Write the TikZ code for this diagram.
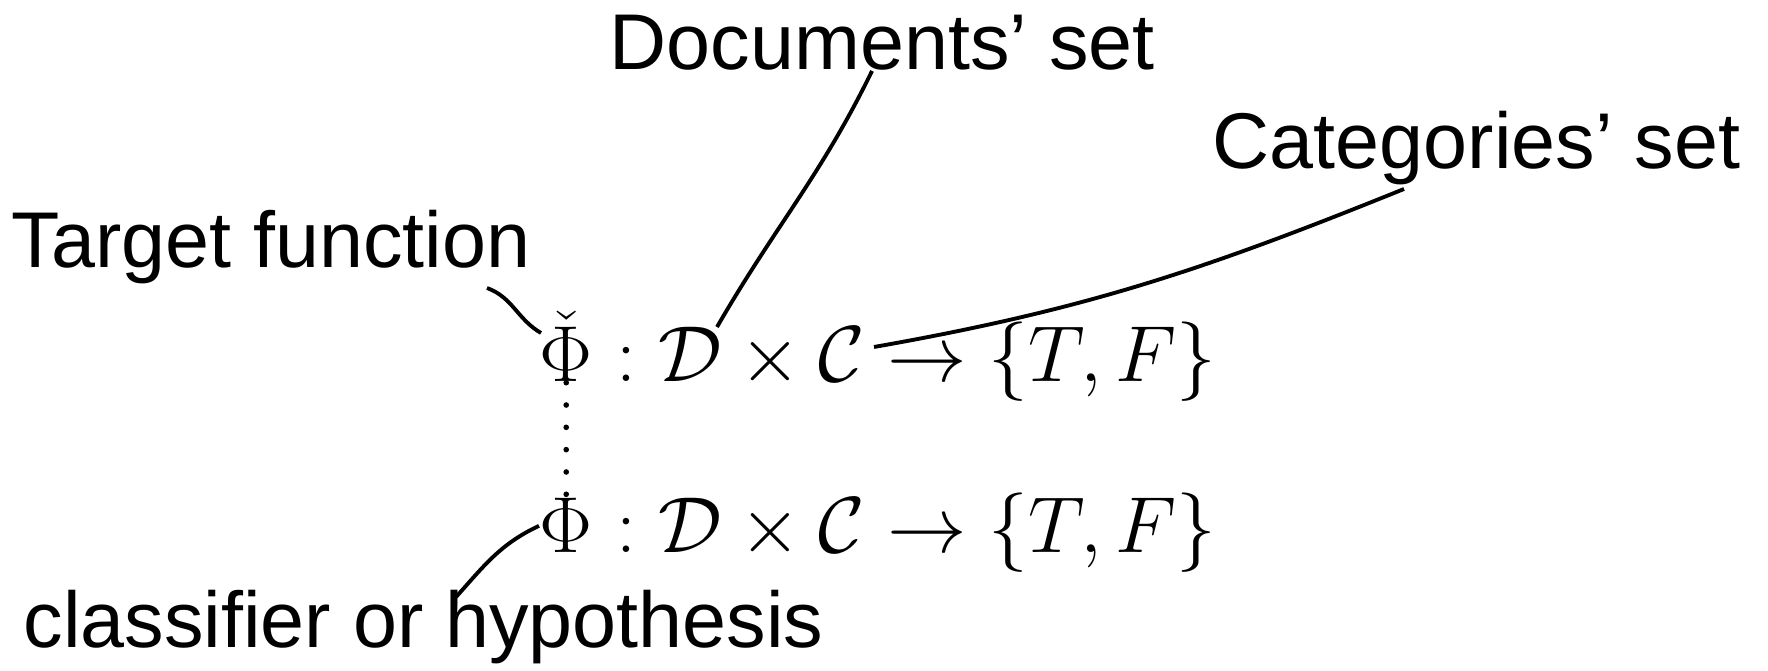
\RequirePackage{fix-cm}
\documentclass[tikz,border=0pt]{standalone}
\usepackage{amsmath,amssymb}
\usepackage{fontspec}
\setmainfont{Liberation Sans}
\usetikzlibrary{positioning,calc}
\definecolor{ink}{RGB}{0,0,0}

\tikzset{
  lbl/.style={inner sep=0pt,anchor=base west,text=ink,
    font=\fontsize{22.5}{27}\selectfont},
  frm/.style={inner sep=0pt,anchor=base west,text=ink,
    font=\fontsize{22.6}{27}\selectfont},
  pointer/.style={draw=ink,line width=1.1pt},
  dotline/.style={draw=ink,line width=1.6pt,line cap=round,
    dash pattern=on 0pt off 6.35pt}
}

\begin{document}
\begin{tikzpicture}
  \useasboundingbox (0,0) rectangle (17.68,-6.71);

  \node[lbl] (docs) at (6.09,-0.70) {Documents’ set};
  \node[lbl] (cats) at (12.12,-1.69) {Categories’ set};
  \node[lbl] (target) at (0.11,-2.68) {Target function};
  \node[lbl] (clf) at (0.23,-6.48) {classifier or hypothesis};

  \node[frm] (phiT) at (5.39,-3.82) {$\check{\Phi}$};
  \node[frm] (mapT) at (phiT.base east)
    {${}:\mathcal{D}\times\mathcal{C}\to\{T,F\}$};
  \node[frm] (phiH) at (5.39,-5.53) {$\Phi$};
  \node[frm] (mapH) at (phiH.base east)
    {${}:\mathcal{D}\times\mathcal{C}\to\{T,F\}$};

  \coordinate (dTop) at (7.17,-3.27);
  \coordinate (cTop) at (8.74,-3.47);
  \coordinate (phiTop) at ($(phiT.base west)+(0.02,0.49)$);
  \coordinate (docsFoot) at (8.72,-0.71);
  \coordinate (catsFoot) at (14.04,-1.89);
  \coordinate (targetFoot) at (4.87,-2.88);
  \coordinate (clfFoot) at (4.56,-5.97);

  \draw[pointer] (docsFoot) to[out=-116,in=60] (dTop);
  \draw[pointer] (catsFoot) to[out=-158,in=10] (cTop);
  \draw[pointer] (targetFoot) to[out=-20,in=150] (phiTop);
  \draw[pointer] (clfFoot) to[out=48,in=-155] (phiH.west);
  \draw[dotline] (phiT.south) -- (phiH.north);
\end{tikzpicture}
\end{document}
